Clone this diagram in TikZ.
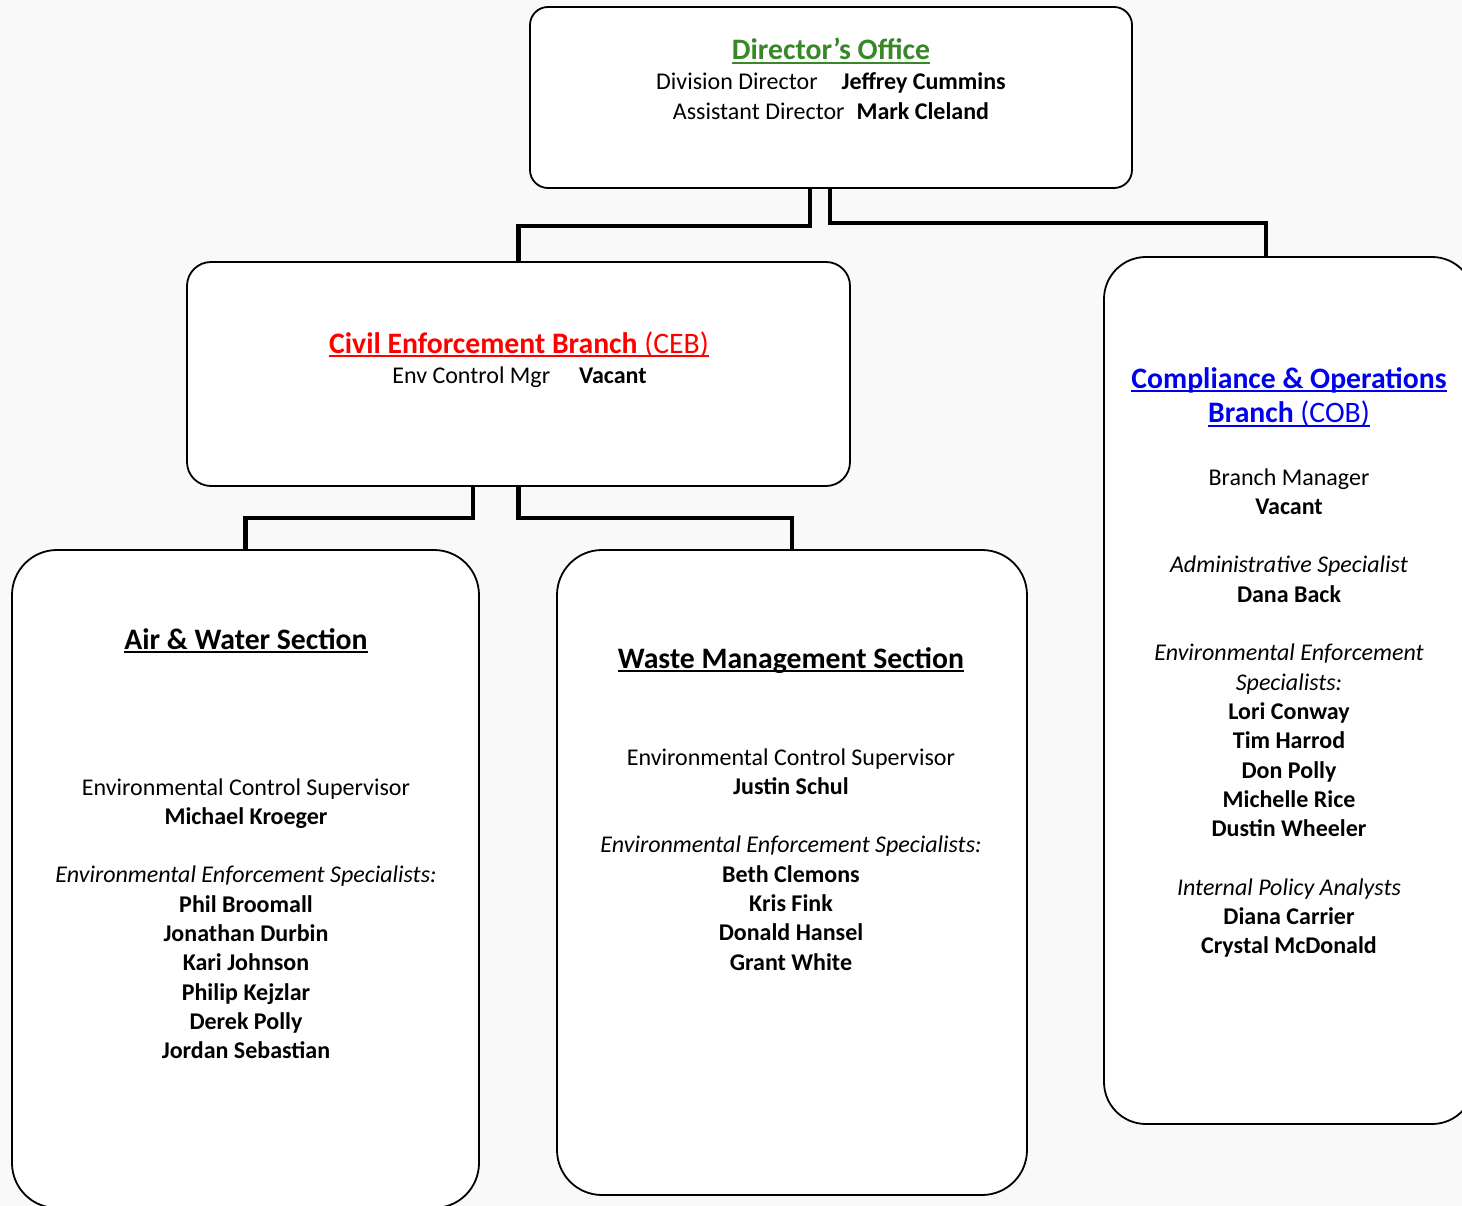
\documentclass[tikz,border=0pt]{standalone}
\usepackage{fontspec}
\setmainfont{Carlito}
\definecolor{dgreen}{RGB}{56,135,40}
\definecolor{cred}{RGB}{255,0,0}
\definecolor{cblue}{RGB}{0,0,240}
\definecolor{bgc}{RGB}{249,249,249}
\newcommand\myul[1]{\begingroup\setbox0=\hbox{#1}\rlap{\rule[-4pt]{\wd0}{1.6pt}}\box0\endgroup}
\renewcommand\arraystretch{1}
\tikzset{
  box/.style={draw, line width=1.8pt, fill=white, rounded corners=#1, inner sep=0pt},
  conn/.style={line width=4.5pt, line join=miter},
  txt/.style={font=\fontsize{24pt}{29.3pt}\selectfont, inner sep=0pt, anchor=base},
  head/.style={font=\fontsize{29.7pt}{35pt}\selectfont\bfseries, inner sep=0pt, anchor=base},
}
\begin{document}
\begin{tikzpicture}[x=1pt,y=-1pt]
\fill[bgc] (0,0) rectangle (1462,1206);
\useasboundingbox (0,0) rectangle (1462,1206);
\clip (0,0) rectangle (1462,1206);
% boxes
\node[box=18pt, minimum width=602pt, minimum height=181pt] (dir) at (831,97.5) {};
\node[box=24pt, minimum width=663pt, minimum height=224pt] (ceb) at (518.5,374) {};
\node[box=42pt, minimum width=370pt, minimum height=867pt] (cob) at (1289,690.5) {};
\node[box=45pt, minimum width=467pt, minimum height=658pt] (aw) at (245.5,879) {};
\node[box=45pt, minimum width=470pt, minimum height=645pt] (wm) at (792,872.5) {};
% connectors
\draw[conn] ([xshift=-21pt]dir.south) -- ++(0,-37pt) -| (ceb.north);
\draw[conn] ([xshift=-1pt]dir.south) -- ++(0,-34pt) -| ([xshift=-23pt]cob.north);
\draw[conn] ([xshift=-45.5pt]ceb.south) -- ++(0,-31pt) -| (aw.north);
\draw[conn] (ceb.south) -- ++(0,-31pt) -| (wm.north);
% Director
\node[head, text=dgreen] (dirT) at (831,60) {\myul{Director’s Office}};
\node[txt] (dirL) at (831,90) {\begin{tabular}[t]{@{}c@{}}
Division Director\hspace{24pt}\textbf{Jeffrey Cummins}\\
Assistant Director\hspace{12pt}\textbf{Mark Cleland}
\end{tabular}};
% CEB
\node[head, text=cred] (cebT) at (519,353) {\myul{Civil Enforcement Branch\mdseries\ (CEB)}};
\node[txt] (cebL) at (519.5,383) {Env Control Mgr\hspace{29pt}\textbf{Vacant}};
% COB
\node[head, text=cblue] (cobT) at (1289,388) {\begin{tabular}[t]{@{}c@{}}
\myul{Compliance \& Operations}\\
\myul{Branch\mdseries\ (COB)}
\end{tabular}};
\node[txt] (cobL) at (1289,485) {\begin{tabular}[t]{@{}c@{}}
Branch Manager\\
\textbf{Vacant}\\
\\
\textit{Administrative Specialist}\\
\textbf{Dana Back}\\
\\
\textit{Environmental Enforcement}\\
\textit{Specialists:}\\
\textbf{Lori Conway}\\
\textbf{Tim Harrod}\\
\textbf{Don Polly}\\
\textbf{Michelle Rice}\\
\textbf{Dustin Wheeler}\\
\\
\textit{Internal Policy Analysts}\\
\textbf{Diana Carrier}\\
\textbf{Crystal McDonald}
\end{tabular}};
% Air & Water
\node[head] (awT) at (246,649) {\myul{Air \& Water Section}};
\node[txt] (awL) at (246,795) {\begin{tabular}[t]{@{}c@{}}
Environmental Control Supervisor\\
\textbf{Michael Kroeger}\\
\\
\textit{Environmental Enforcement Specialists:}\\
\textbf{Phil Broomall}\\
\textbf{Jonathan Durbin}\\
\textbf{Kari Johnson}\\
\textbf{Philip Kejzlar}\\
\textbf{Derek Polly}\\
\textbf{Jordan Sebastian}
\end{tabular}};
% Waste
\node[head] (wmT) at (791,668) {\myul{Waste Management Section}};
\node[txt] (wmL) at (791,765) {\begin{tabular}[t]{@{}c@{}}
Environmental Control Supervisor\\
\textbf{Justin Schul}\\
\\
\textit{Environmental Enforcement Specialists:}\\
\textbf{Beth Clemons}\\
\textbf{Kris Fink}\\
\textbf{Donald Hansel}\\
\textbf{Grant White}
\end{tabular}};
\end{tikzpicture}
\end{document}
